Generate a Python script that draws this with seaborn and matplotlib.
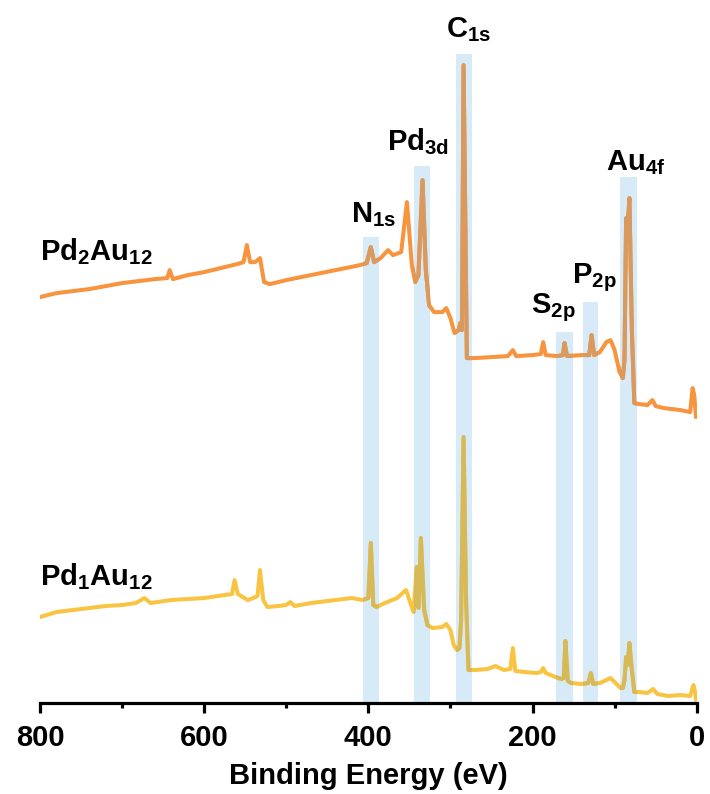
# XPS survey spectra of Pd2Au12 and Pd1Au12 with the assigned peak regions.

import matplotlib
matplotlib.use("Agg")
import matplotlib.pyplot as plt
import pandas as pd
import seaborn as sns

# Pd2Au12 spectrum: binding energy (eV) and intensity (a.u.).
pd2_energy = [800, 780, 760, 740, 720, 700, 680, 660, 645, 642, 638, 620, 600, 580, 560,
              552, 548, 544, 538, 532, 527, 520, 500, 470, 440, 410, 402, 397, 393, 385,
              376, 370, 360, 353, 347, 343, 339, 334, 330, 326, 320, 310, 305, 300, 295,
              290, 288, 286, 284, 280, 270, 250, 230, 224, 220, 200, 190, 187, 184, 170,
              163, 161, 158, 140, 131, 128, 125, 118, 110, 105, 100, 94, 90, 88, 86,
              84, 82, 79, 76, 70, 60, 54, 50, 40, 20, 8, 5, 3, 1]
pd2_intensity = [403, 407, 409, 411, 414, 417, 419, 421, 422, 430, 421, 425, 428, 432, 436,
                 438, 455, 438, 438, 442, 418, 416, 420, 425, 430, 435, 437, 453, 438, 442,
                 450, 445, 448, 498, 435, 418, 425, 520, 430, 395, 388, 388, 392, 382, 367,
                 370, 377, 370, 635, 342, 342, 343, 344, 350, 344, 345, 346, 358, 345, 344,
                 345, 357, 344, 345, 345, 365, 345, 348, 358, 360, 350, 328, 322, 340, 482,
                 475, 502, 370, 297, 296, 295, 300, 294, 292, 290, 288, 312, 305, 283]

# Pd1Au12 spectrum.
pd1_energy = [800, 780, 760, 740, 720, 700, 683, 673, 665, 640, 600, 575, 566, 563, 559,
              553, 547, 540, 535, 532, 528, 523, 510, 500, 495, 490, 470, 450, 420, 407,
              400, 397, 394, 390, 380, 365, 357, 354, 350, 345, 341, 339, 336, 332, 328,
              322, 310, 305, 300, 296, 292, 289, 287, 284, 281, 278, 270, 255, 245, 235,
              227, 224, 221, 210, 195, 190, 187, 184, 172, 165, 162, 160, 157, 153, 140,
              132, 129, 126, 118, 110, 105, 100, 93, 90, 88, 86, 84, 82, 79, 76,
              70, 60, 53, 48, 35, 20, 8, 4, 2, 1]
pd1_intensity = [83, 88, 90, 92, 94, 95, 97, 102, 97, 100, 102, 105, 106, 120, 106,
                 103, 100, 102, 104, 130, 100, 93, 94, 95, 98, 94, 97, 99, 102, 100,
                 102, 157, 95, 93, 97, 102, 108, 110, 100, 88, 133, 92, 162, 90, 75,
                 72, 73, 76, 70, 55, 50, 52, 80, 263, 100, 30, 30, 31, 34, 30,
                 31, 52, 29, 28, 27, 28, 32, 27, 23, 21, 22, 59, 19, 17, 16,
                 17, 27, 16, 17, 20, 22, 18, 12, 12, 20, 43, 35, 57, 30, 8,
                 8, 7, 11, 6, 4, 5, 4, 15, 8, 0]

# Peak assignment regions.
band_names = ["N$_{1s}$", "Pd$_{3d}$", "C$_{1s}$", "S$_{2p}$", "P$_{2p}$", "Au$_{4f}$"]
band_lo = [387, 325, 273.5, 151, 120, 72.5]
band_hi = [406.5, 344.5, 293, 171, 139, 93]
band_top = [463, 534, 646, 368, 398, 523]
label_x = [421, 377, 305, 202, 152, 110]
label_y = [478, 550, 663, 387, 417, 530]

sample_names = ["Pd$_2$Au$_{12}$", "Pd$_1$Au$_{12}$"]
sample_label_y = [440, 115]

orange = "#F7943D"
yellow = "#FAC443"
orange_in_band = "#D89A5E"
yellow_in_band = "#D6BA5A"
band_color = "#D7EAF8"

sns.set_style("white")
plt.rcParams["font.family"] = ["Liberation Sans", "DejaVu Sans"]
plt.rcParams["font.weight"] = "bold"
plt.rcParams["text.color"] = "black"
plt.rcParams["axes.labelcolor"] = "black"
plt.rcParams["xtick.color"] = "black"
plt.rcParams["mathtext.fontset"] = "custom"
plt.rcParams["mathtext.rm"] = "Liberation Sans:bold"
plt.rcParams["mathtext.it"] = "Liberation Sans:bold"
plt.rcParams["mathtext.bf"] = "Liberation Sans:bold"
plt.rcParams["mathtext.default"] = "rm"

df_pd2 = pd.DataFrame({"energy": pd2_energy, "intensity": pd2_intensity})
df_pd1 = pd.DataFrame({"energy": pd1_energy, "intensity": pd1_intensity})

fig = plt.figure(figsize=(7.1, 7.94), dpi=100)
ax = fig.add_axes([0.0563, 0.1146, 0.925, 0.860])

# Shaded regions behind the spectra.
band_patches = []
for lo, hi, top in zip(band_lo, band_hi, band_top):
    patch = ax.fill_between([lo, hi], [-3, -3], [top, top], color=band_color,
                            linewidth=0, zorder=1)
    band_patches.append(patch)

# Spectra.
sns.lineplot(data=df_pd2, x="energy", y="intensity", color=orange, linewidth=2.9,
             sort=False, estimator=None, ax=ax, zorder=2)
sns.lineplot(data=df_pd1, x="energy", y="intensity", color=yellow, linewidth=2.9,
             sort=False, estimator=None, ax=ax, zorder=2)

# The spectra seen through the shaded regions look darker.
for patch in band_patches:
    for df, col in [(df_pd2, orange_in_band), (df_pd1, yellow_in_band)]:
        sns.lineplot(data=df, x="energy", y="intensity", color=col, linewidth=2.9,
                     sort=False, estimator=None, ax=ax, zorder=3)
        ax.lines[-1].set_clip_path(patch.get_paths()[0], ax.transData)

# Peak labels.
for name, x, y in zip(band_names, label_x, label_y):
    ax.text(x, y, name, fontsize=21, fontweight="bold", ha="left", va="baseline",
            clip_on=False)

for name, y in zip(sample_names, sample_label_y):
    ax.text(800, y, name, fontsize=21, fontweight="bold", ha="left", va="baseline")

ax.set_xlim(800, 0)
ax.set_ylim(-3, 680)
ax.set_xticks([800, 600, 400, 200, 0])
ax.set_xticks([700, 500, 300, 100], minor=True)
ax.set_yticks([])
ax.set_xlabel("Binding Energy (eV)", fontsize=21, fontweight="bold", labelpad=7)
ax.set_ylabel("")

for side in ["top", "right", "left"]:
    ax.spines[side].set_visible(False)
ax.spines["bottom"].set_linewidth(2.3)
ax.spines["bottom"].set_color("black")
ax.tick_params(axis="x", which="major", direction="out", length=7, width=2.3,
               labelsize=21, pad=8, bottom=True)
ax.tick_params(axis="x", which="minor", direction="out", length=3.5, width=2.3, bottom=True)
ax.patch.set_alpha(0)

plt.savefig("out.png", dpi=100)
plt.close()
